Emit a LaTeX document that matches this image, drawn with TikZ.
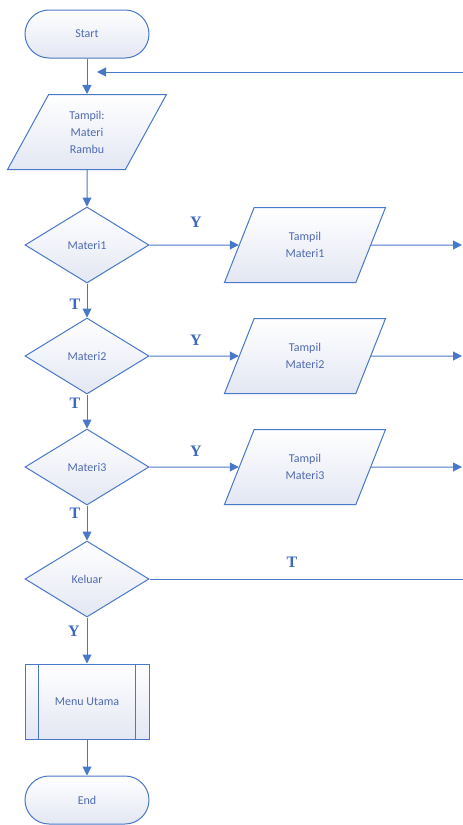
\documentclass[tikz,border=0pt]{standalone}
\usepackage{fontspec}
\setmainfont{Carlito}
\newfontfamily\lblfont{Liberation Serif}
\usetikzlibrary{shapes.geometric,arrows.meta}
\definecolor{ln}{HTML}{4A78C8}
\definecolor{tx}{HTML}{4F6BB0}
\definecolor{fl}{HTML}{E3E7F3}
\definecolor{lb}{HTML}{3D68C0}
\begin{document}
\begin{tikzpicture}[x=1pt,y=-1pt,
 base/.style={draw=ln, line width=1pt, top color=white, bottom color=fl, text=tx, font=\fontsize{12}{17}\selectfont, align=center, inner sep=0pt},
 term/.style={base, rectangle, rounded corners=24pt, minimum width=124pt, minimum height=48pt},
 io/.style={base, trapezium, trapezium left angle=66, trapezium right angle=114, trapezium stretches=true, minimum width=160pt, minimum height=75pt},
 dec/.style={base, diamond, minimum width=124pt, minimum height=76pt},
 proc/.style={base, rectangle, minimum width=124pt, minimum height=75pt},
 arr/.style={draw=ln, line width=1pt, -{Triangle[length=9pt,width=9pt]}},
 lin/.style={draw=ln, line width=1pt},
 lbl/.style={text=lb, font=\lblfont\bfseries\fontsize{16}{16}\selectfont}
]
\useasboundingbox (0,0) rectangle (463,825);
\node[term] (start) at (87,34) {Start};
\node[io] (tampil) at (87,132) {Tampil:\\Materi\\Rambu};
\node[dec] (m1) at (87,245) {Materi1};
\node[dec] (m2) at (87,356) {Materi2};
\node[dec] (m3) at (87,467) {Materi3};
\node[dec] (kel) at (87,579) {Keluar};
\node[proc] (menu) at (87,701.5) {Menu Utama};
\node[term] (end) at (87,800) {End};
\node[io, minimum width=162pt] (t1) at (305,245) {Tampil\\Materi1};
\node[io, minimum width=162pt] (t2) at (305,356) {Tampil\\Materi2};
\node[io, minimum width=162pt] (t3) at (305,467) {Tampil\\Materi3};
\draw[lin] ([xshift=14pt]menu.north west) -- ([xshift=14pt]menu.south west);
\draw[lin] ([xshift=-14pt]menu.north east) -- ([xshift=-14pt]menu.south east);
\coordinate (fbs) at (463,72);
\coordinate (fbe) at (97,72);
\coordinate (r1) at (462,245);
\coordinate (r2) at (462,356);
\coordinate (r3) at (462,467);
\coordinate (rk) at (463,579);
\draw[arr] (start) -- (tampil);
\draw[arr] (fbs) -- (fbe);
\draw[arr] (tampil) -- (m1);
\draw[arr] (m1) -- (t1);
\draw[arr] (m2) -- (t2);
\draw[arr] (m3) -- (t3);
\draw[arr] (t1) -- (r1);
\draw[arr] (t2) -- (r2);
\draw[arr] (t3) -- (r3);
\draw[arr] (m1) -- (m2);
\draw[arr] (m2) -- (m3);
\draw[arr] (m3) -- (kel);
\draw[lin] (kel) -- (rk);
\draw[arr] (kel) -- (menu);
\draw[arr] (menu) -- (end);
\node[lbl] (y1) at (196,222) {Y};
\node[lbl] (y2) at (196,340) {Y};
\node[lbl] (y3) at (196,451) {Y};
\node[lbl] (n1) at (75,304) {T};
\node[lbl] (n2) at (75,403) {T};
\node[lbl] (n3) at (75,513) {T};
\node[lbl] (nk) at (292,562) {T};
\node[lbl] (yk) at (74,631) {Y};
\end{tikzpicture}
\end{document}
